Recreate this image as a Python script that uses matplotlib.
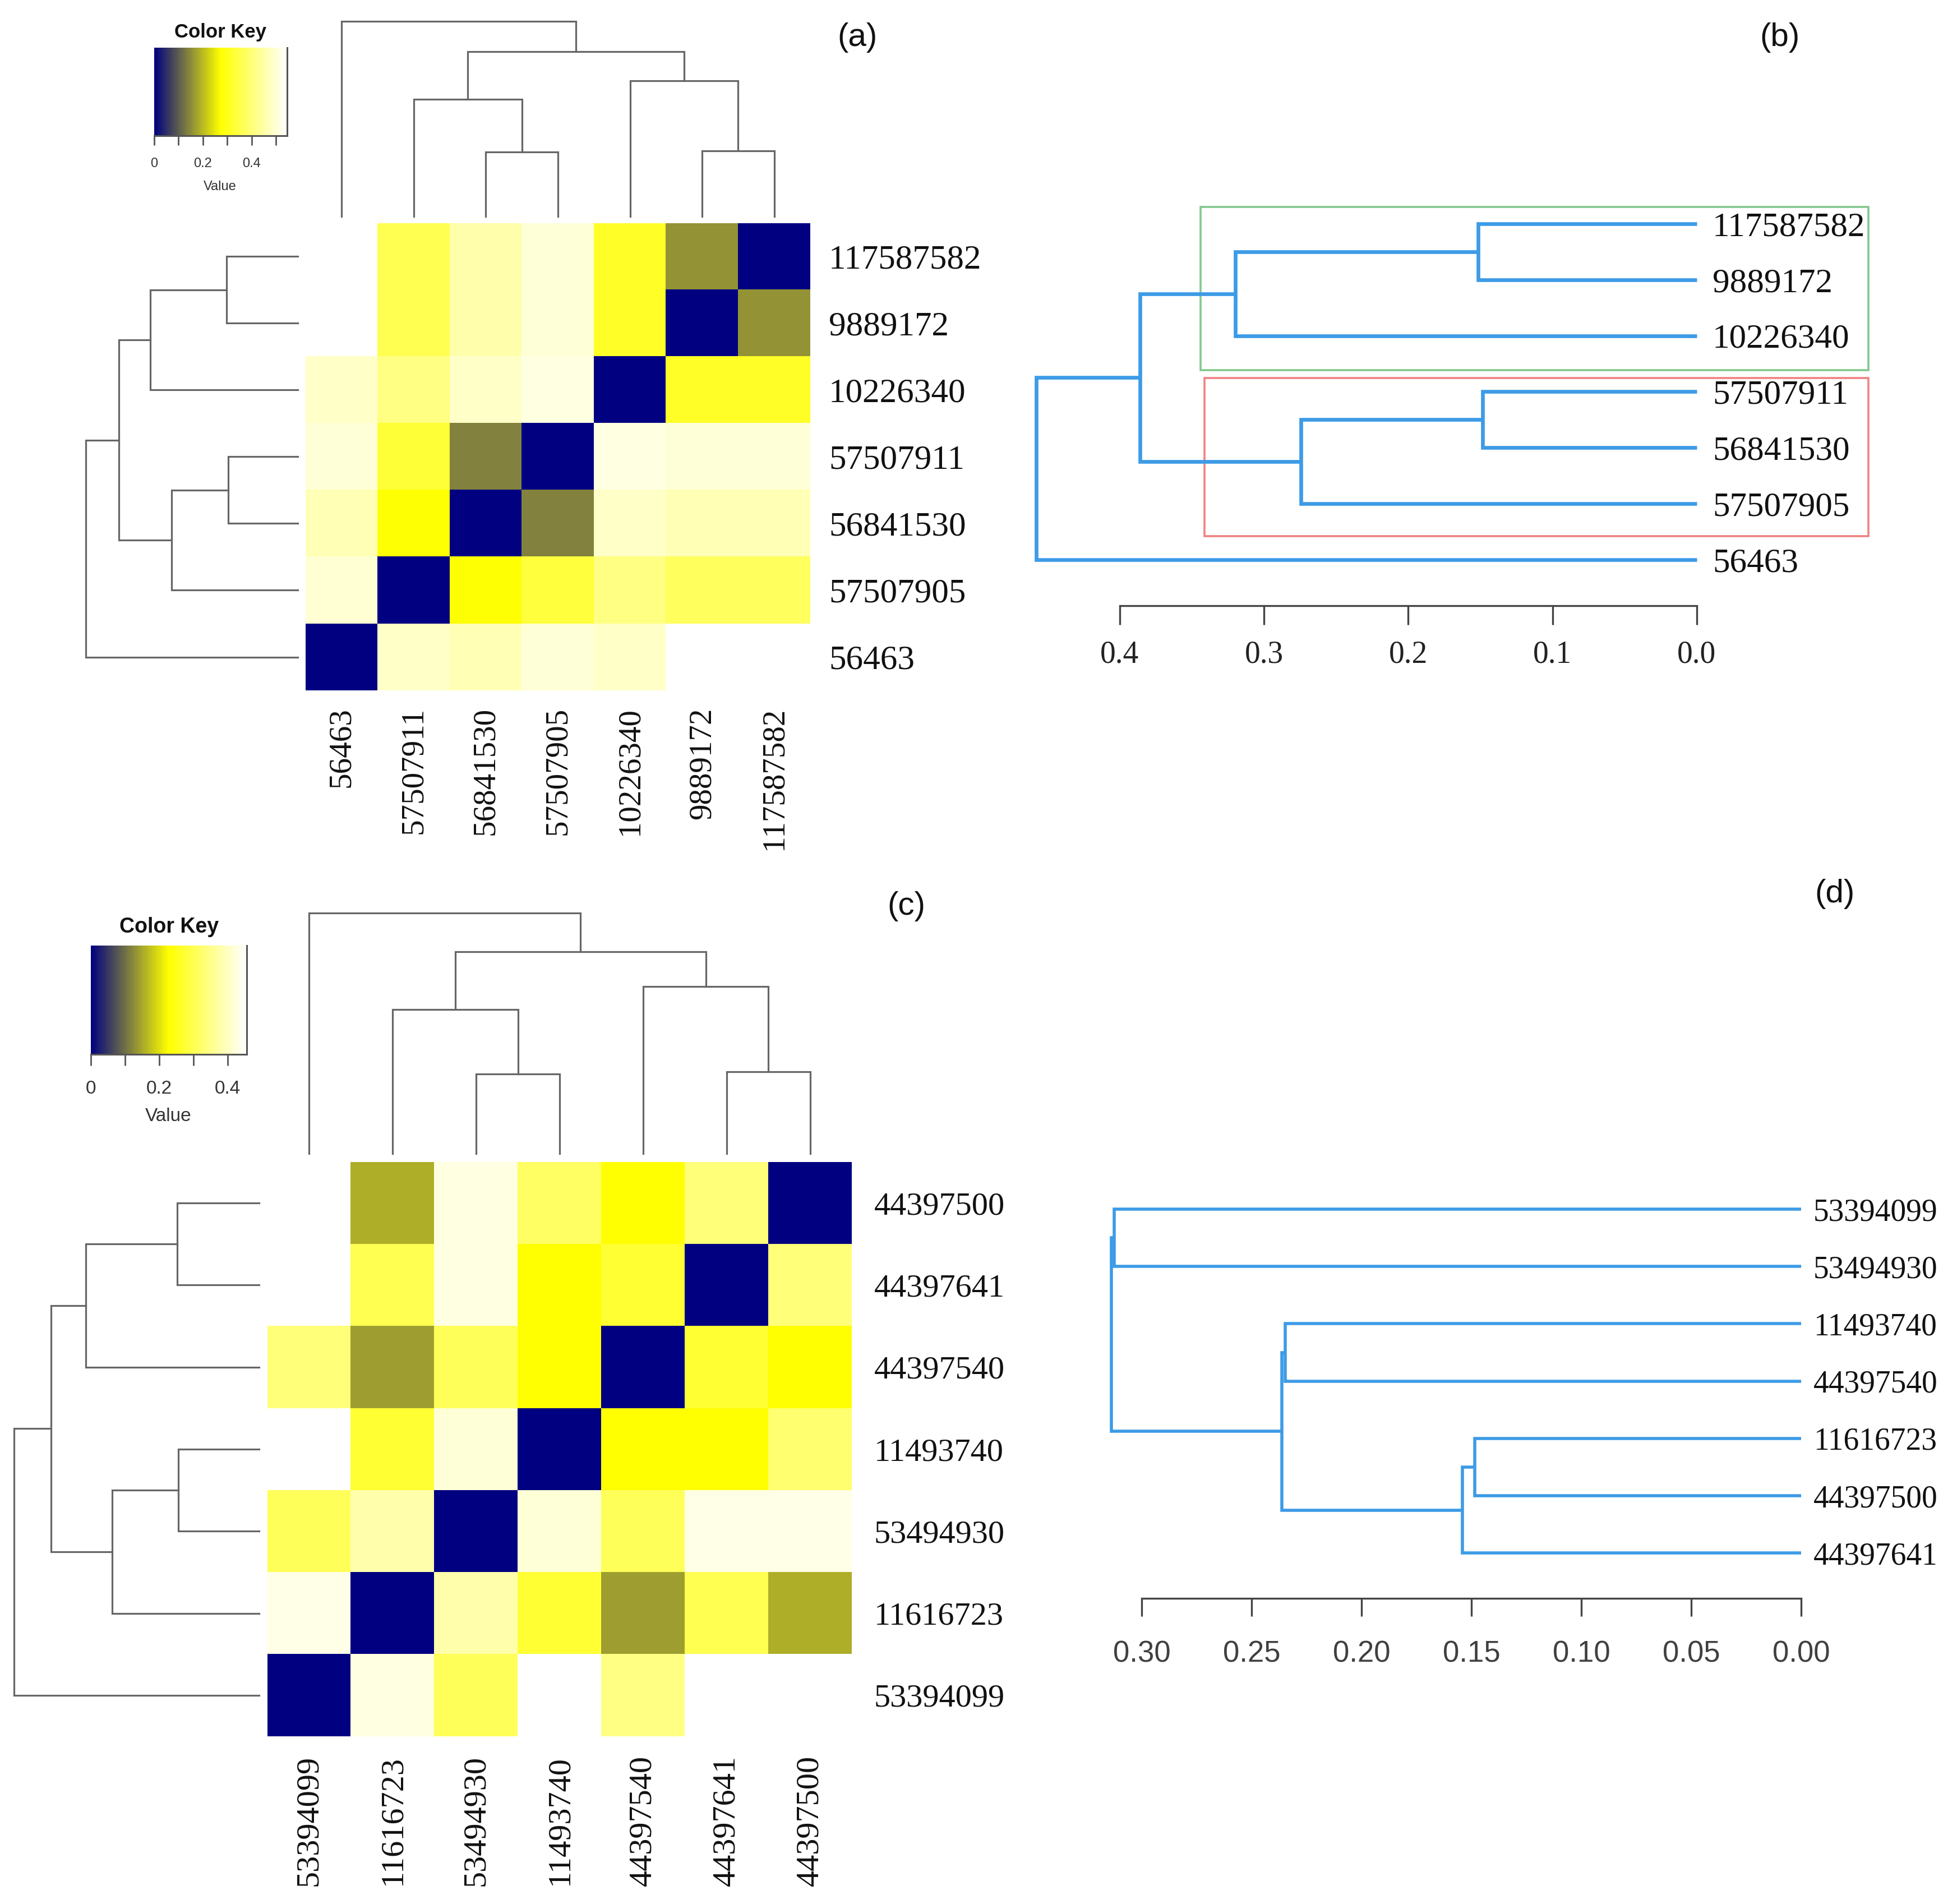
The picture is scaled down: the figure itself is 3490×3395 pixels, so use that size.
import numpy as np
import matplotlib
matplotlib.use("Agg")
import matplotlib.pyplot as plt
from matplotlib.colors import LinearSegmentedColormap
from matplotlib.patches import Rectangle

# ---------------- data ----------------
rows_a = ["117587582", "9889172", "10226340", "57507911", "56841530", "57507905", "56463"]
cols_a = ["56463", "57507911", "56841530", "57507905", "10226340", "9889172", "117587582"]
dist_a = [
    [0.545, 0.358, 0.454, 0.502, 0.315, 0.158, 0.000],
    [0.545, 0.358, 0.454, 0.502, 0.315, 0.000, 0.158],
    [0.486, 0.411, 0.486, 0.513, 0.000, 0.315, 0.315],
    [0.502, 0.330, 0.140, 0.000, 0.513, 0.502, 0.502],
    [0.465, 0.275, 0.000, 0.140, 0.486, 0.465, 0.465],
    [0.497, 0.000, 0.275, 0.337, 0.411, 0.372, 0.372],
    [0.000, 0.486, 0.465, 0.502, 0.486, 0.545, 0.545],
]
# merges (child, child, relative height); leaves are display indices, new nodes numbered from 7
link_a_cols = [(2, 3, 0.330), (5, 6, 0.335), (1, 7, 0.600), (4, 8, 0.695), (9, 10, 0.846), (0, 11, 1.000)]
link_a_rows = [(0, 1, 0.336), (3, 4, 0.328), (2, 7, 0.696), (5, 8, 0.595), (9, 10, 0.844), (6, 11, 1.000)]
vmax_a = 0.545
key_ticks_a = [0.0, 0.1, 0.2, 0.3, 0.4, 0.5]
key_labels_a = ["0", "", "0.2", "", "0.4", ""]

rows_c = ["44397500", "44397641", "44397540", "11493740", "53494930", "11616723", "53394099"]
cols_c = ["53394099", "11616723", "53494930", "11493740", "44397540", "44397641", "44397500"]
dist_c = [
    [0.456, 0.155, 0.429, 0.317, 0.228, 0.335, 0.000],
    [0.456, 0.300, 0.429, 0.228, 0.273, 0.000, 0.335],
    [0.335, 0.141, 0.308, 0.228, 0.000, 0.273, 0.228],
    [0.456, 0.273, 0.420, 0.000, 0.228, 0.228, 0.326],
    [0.308, 0.380, 0.000, 0.420, 0.308, 0.434, 0.434],
    [0.434, 0.000, 0.380, 0.273, 0.141, 0.300, 0.155],
    [0.000, 0.429, 0.308, 0.456, 0.344, 0.456, 0.456],
]
link_c_cols = [(2, 3, 0.331), (5, 6, 0.340), (1, 7, 0.599), (4, 8, 0.695), (9, 10, 0.839), (0, 11, 1.000)]
link_c_rows = [(0, 1, 0.334), (3, 4, 0.330), (2, 7, 0.708), (5, 8, 0.600), (9, 10, 0.848), (6, 11, 1.000)]
vmax_c = 0.456
key_ticks_c = [0.0, 0.1, 0.2, 0.3, 0.4]
key_labels_c = ["0", "", "0.2", "", "0.4"]

leaves_b = ["117587582", "9889172", "10226340", "57507911", "56841530", "57507905", "56463"]
link_b = [(0, 1, 0.1517), (3, 4, 0.1485), (2, 7, 0.320), (5, 8, 0.2745), (9, 10, 0.386), (6, 11, 0.458)]
ticks_b = [0.4, 0.3, 0.2, 0.1, 0.0]
ticklabels_b = ["0.4", "0.3", "0.2", "0.1", "0.0"]

leaves_d = ["53394099", "53494930", "11493740", "44397540", "11616723", "44397500", "44397641"]
link_d = [(4, 5, 0.1485), (7, 6, 0.1540), (2, 3, 0.2347), (9, 8, 0.2362), (0, 1, 0.3125), (11, 10, 0.3139)]
ticks_d = [0.30, 0.25, 0.20, 0.15, 0.10, 0.05, 0.00]
ticklabels_d = ["0.30", "0.25", "0.20", "0.15", "0.10", "0.05", "0.00"]

# ---------------- figure ----------------
W, H = 3491, 3395
fig = plt.figure(figsize=(W / 100, H / 100), dpi=100)
PT = 0.72  # points per pixel at dpi 100

SERIF = ["Liberation Serif", "DejaVu Serif"]
SANS = ["Liberation Sans", "DejaVu Sans"]
NARROW = ["Liberation Sans Narrow", "Liberation Sans", "DejaVu Sans"]
GRAY = "#666666"
BLUE = "#3d9be6"

cmap = LinearSegmentedColormap.from_list("navy_yellow_white", ["#000080", "#ffff00", "#ffffff"], N=256)


def box(l, t, r, b):
    return fig.add_axes([l / W, 1 - b / H, (r - l) / W, (b - t) / H])


def dendro_segments(link, leaf_pos):
    pos = list(leaf_pos)
    hts = [0.0] * len(pos)
    segs = []
    for a, b, h in link:
        pa, pb = pos[a], pos[b]
        segs.append(([pa, pa, pb, pb], [hts[a], h, h, hts[b]]))
        pos.append((pa + pb) / 2.0)
        hts.append(h)
    return segs


def clean(ax):
    ax.set_xticks([])
    ax.set_yticks([])
    for sp in ax.spines.values():
        sp.set_visible(False)
    ax.patch.set_alpha(0)


def heat_panel(dist, rows, cols, link_cols, link_rows, vmax, hm, top, left, key, kticks, klabels,
               fs_row, fs_col, pad_row, pad_col, kfs_title, kfs_tick, ktick_len, ktick_pad,
               title_xy, value_xy):
    n = len(cols)
    ax = box(*hm)
    ax.imshow(np.array(dist), cmap=cmap, vmin=0, vmax=vmax, aspect="auto", interpolation="nearest")
    for sp in ax.spines.values():
        sp.set_visible(False)
    ax.set_xticks(range(n))
    ax.set_xticklabels(cols, rotation=90, fontsize=fs_col, family=SERIF, color="#111111")
    ax.set_yticks(range(n))
    ax.set_yticklabels(rows, fontsize=fs_row, family=SERIF, color="#111111")
    ax.yaxis.tick_right()
    ax.tick_params(axis="x", length=0, pad=pad_col)
    ax.tick_params(axis="y", length=0, pad=pad_row)

    # column dendrogram
    tax = box(*top)
    for xs, ys in dendro_segments(link_cols, range(n)):
        tax.plot(xs, ys, color=GRAY, lw=2.3, clip_on=False, solid_joinstyle="miter")
    tax.set_xlim(-0.5, n - 0.5)
    tax.set_ylim(0, 1)
    clean(tax)

    # row dendrogram
    lax = box(*left)
    for ys, xs in dendro_segments(link_rows, range(n)):
        lax.plot(xs, ys, color=GRAY, lw=2.3, clip_on=False, solid_joinstyle="miter")
    lax.set_ylim(n - 0.5, -0.5)
    lax.set_xlim(1, 0)
    clean(lax)

    # colour key
    kax = box(*key)
    grad = np.linspace(0, vmax, 256)[None, :]
    kax.imshow(grad, cmap=cmap, vmin=0, vmax=vmax, aspect="auto",
               extent=(0, vmax, 0, 1), interpolation="nearest")
    kax.set_xlim(0, vmax)
    kax.set_ylim(0, 1)
    kax.set_yticks([])
    kax.spines["top"].set_visible(False)
    kax.spines["left"].set_visible(False)
    for s in ("bottom", "right"):
        kax.spines[s].set_color("#555555")
        kax.spines[s].set_linewidth(2.2)
    kax.set_xticks(kticks)
    kax.set_xticklabels(klabels, family=SANS)
    kax.tick_params(axis="x", direction="out", length=ktick_len, width=2, color="#555555",
                    labelsize=kfs_tick, labelcolor="#333333", pad=ktick_pad)
    fig.text(title_xy[0] / W, 1 - title_xy[1] / H, "Color Key", ha="center", va="center",
             fontsize=kfs_title, fontweight="bold", family=SANS, color="#111111")
    fig.text(value_xy[0] / W, 1 - value_xy[1] / H, "Value", ha="center", va="center",
             fontsize=kfs_tick, family=SANS, color="#333333")


def tree_panel(leaves, link, ax_box, x_left_val, y_first_px, y_step_px, ticks, ticklabels,
               fs_leaf, leaf_pad, lw, tick_len, tick_pad, tick_fs, tick_family, tick_color,
               axis_max):
    l, t, r, b = ax_box
    ax = box(l, t, r, b)
    n = len(leaves)
    for ys, xs in dendro_segments(link, range(n)):
        ax.plot(xs, ys, color=BLUE, lw=lw, clip_on=False, solid_joinstyle="miter",
                solid_capstyle="butt")
    ax.set_xlim(x_left_val, 0)
    ax.set_ylim((b - y_first_px) / y_step_px, (t - y_first_px) / y_step_px)
    for s in ("top", "left", "right"):
        ax.spines[s].set_visible(False)
    ax.spines["bottom"].set_bounds(0, axis_max)
    ax.spines["bottom"].set_color("#444444")
    ax.spines["bottom"].set_linewidth(2.4)
    ax.set_xticks(ticks)
    ax.set_xticklabels(ticklabels, family=tick_family)
    ax.tick_params(axis="x", direction="out", length=tick_len, width=2.4, color="#444444",
                   labelsize=tick_fs, labelcolor=tick_color, pad=tick_pad)
    ax.set_yticks(range(n))
    ax.set_yticklabels(leaves, fontsize=fs_leaf, family=SERIF, color="#111111")
    ax.yaxis.tick_right()
    ax.tick_params(axis="y", length=0, pad=leaf_pad)
    ax.patch.set_alpha(0)
    return ax


# panel (a)
heat_panel(dist_a, rows_a, cols_a, link_a_cols, link_a_rows, vmax_a,
           hm=(545, 398, 1445, 1231), top=(545, 38, 1445, 386), left=(153, 398, 531, 1231),
           key=(275, 85, 512, 242), kticks=key_ticks_a, klabels=key_labels_a,
           fs_row=44, fs_col=41, pad_row=33 * PT, pad_col=30 * PT,
           kfs_title=25, kfs_tick=17, ktick_len=17 * PT, ktick_pad=22 * PT,
           title_xy=(393, 58), value_xy=(392, 333))

# panel (c)
heat_panel(dist_c, rows_c, cols_c, link_c_cols, link_c_rows, vmax_c,
           hm=(477, 2072, 1519, 3096), top=(477, 1628, 1519, 2057), left=(25, 2072, 462, 3096),
           key=(162, 1686, 440, 1880), kticks=key_ticks_c, klabels=key_labels_c,
           fs_row=42, fs_col=42, pad_row=40 * PT, pad_col=34 * PT,
           kfs_title=27, kfs_tick=24, ktick_len=20 * PT, ktick_pad=26 * PT,
           title_xy=(302, 1653), value_xy=(300, 1990))

# panel (b)
axb = tree_panel(leaves_b, link_b, (1820, 360, 3026, 1080), (3026 - 1820) / 2572.5,
                 399, 99.8, ticks_b, ticklabels_b, fs_leaf=44, leaf_pad=28 * PT, lw=4.8,
                 tick_len=34 * PT, tick_pad=28 * PT, tick_fs=40, tick_family=SERIF,
                 tick_color="#222222", axis_max=0.4)


def px_to_b(x, y):
    return (3026 - x) / 2572.5, (y - 399) / 99.8


# cluster boxes
gx0, gy0 = px_to_b(2141, 369)
gx1, gy1 = px_to_b(3332, 660)
axb.add_patch(Rectangle((gx1, gy0), gx0 - gx1, gy1 - gy0, fill=False, ec="#82c88c", lw=2.6, clip_on=False))
rx0, ry0 = px_to_b(2148, 674)
rx1, ry1 = px_to_b(3332, 956)
axb.add_patch(Rectangle((rx1, ry0), rx0 - rx1, ry1 - ry0, fill=False, ec="#f08282", lw=2.6, clip_on=False))

# panel (d)
tree_panel(leaves_d, link_d, (1960, 2100, 3212, 2850), (3212 - 1960) / 3920.0,
           2156, 102.2, ticks_d, ticklabels_d, fs_leaf=40, leaf_pad=22 * PT, lw=4.0,
           tick_len=32 * PT, tick_pad=42 * PT, tick_fs=38, tick_family=NARROW,
           tick_color="#404040", axis_max=0.30)

# panel letters
for lab, (x, y) in {"(a)": (1529, 67), "(b)": (3174, 67), "(c)": (1616, 1616), "(d)": (3272, 1594)}.items():
    fig.text(x / W, 1 - y / H, lab, ha="center", va="center", fontsize=42, family=SANS, color="#111111")

fig.savefig("out.png", dpi=100)
